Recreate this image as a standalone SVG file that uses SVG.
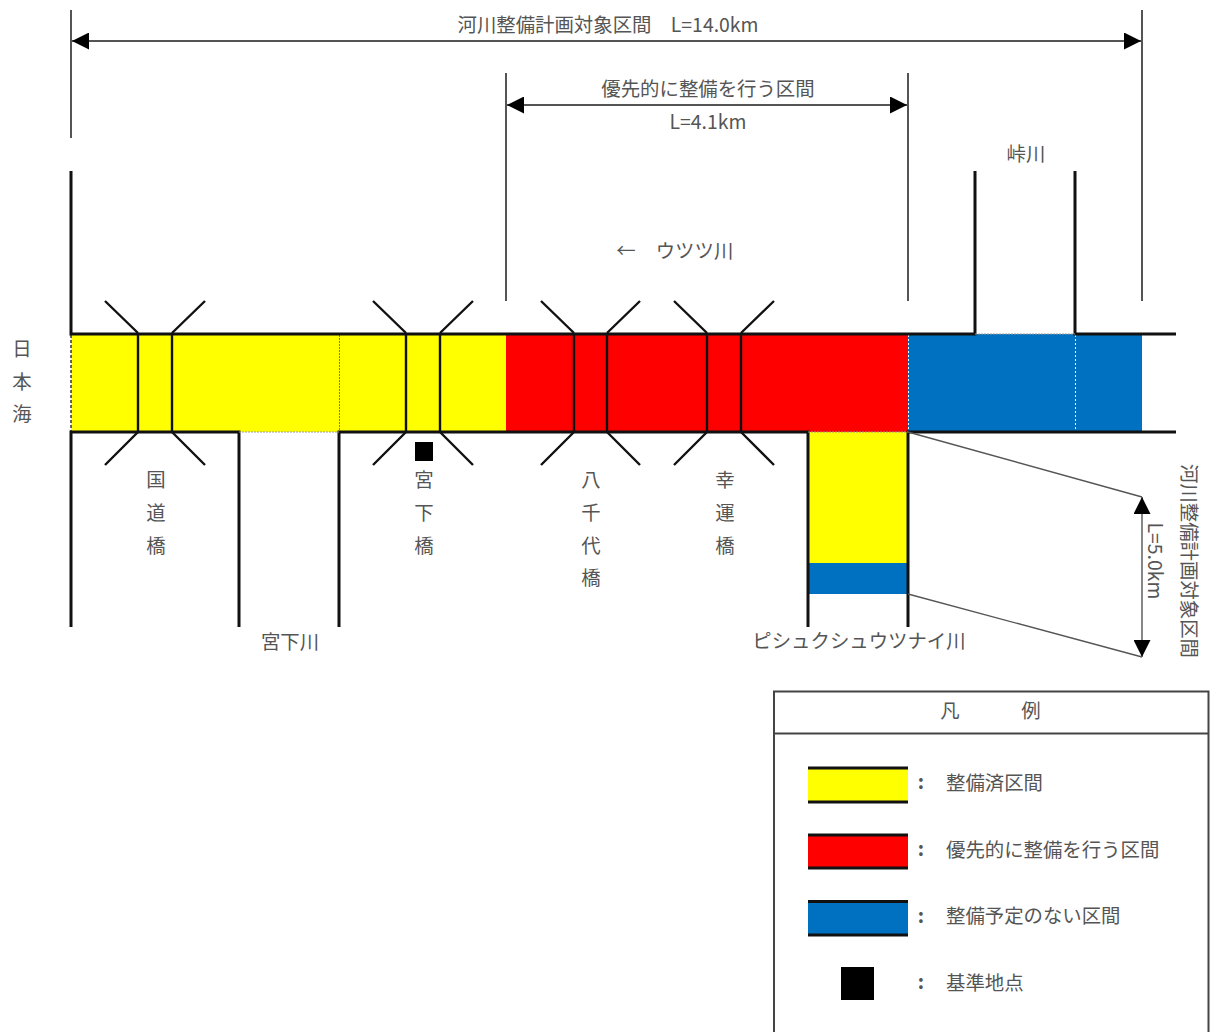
<svg xmlns="http://www.w3.org/2000/svg" width="1212" height="1032" viewBox="0 0 1212 1032">
<style>
text{font-family:"Noto Sans CJK JP","Noto Sans",sans-serif;font-size:19.400px;fill:#555;text-anchor:middle;dominant-baseline:central}
.s{text-anchor:start}
.c{font-weight:700}
.b{stroke:#111;stroke-width:3;fill:none}
.m{stroke:#111;stroke-width:2.400;fill:none}
.d{stroke:#555;stroke-width:2;fill:none}
.t{stroke:#555;stroke-width:1.400;fill:none}
.w{stroke:#fff;stroke-width:1;stroke-dasharray:2 2;fill:none}
.y{fill:#ff0}.r{fill:#f00}.u{fill:#0070c0}
</style>
<defs>
<marker id="a" viewBox="0 0 17 17" refX="17" refY="8.500" markerWidth="17" markerHeight="17" markerUnits="userSpaceOnUse" orient="auto-start-reverse"><path d="M0 0L17 8.500L0 17Z" fill="#000"/></marker>
</defs>
<g id="river">
<rect class="y" x="71" y="334" width="435" height="98"/>
<rect class="r" x="506" y="334" width="402" height="98"/>
<rect class="u" x="908" y="334" width="234" height="98"/>
<rect class="y" x="808" y="432" width="100" height="131"/>
<rect class="u" x="808" y="563" width="100" height="31"/>
<path d="M71 335V431" fill="none" stroke="#333" stroke-width="1.500" stroke-dasharray="3 2"/>
<path d="M339.500 335V431" fill="none" stroke="#777" stroke-width="1" stroke-dasharray="2 1"/>
<path class="w" d="M908.500 335V431M1075.500 335V431"/>
<path class="b" d="M71 171V334H975V171M1075 171V334H1176M71 627V432H239V627M339 627V432H808V627M908 627V432H1176"/>
<path d="M975 334H1075M239 432H339M808 432H908" fill="none" stroke="#999" stroke-width="1" stroke-dasharray="2 1"/>
</g>
<g id="bridge-kokudo">
<path class="m" d="M138 333V432M172 333V432M105 301L138 333M205 301L172 333M105 465L138 432M205 465L172 432"/>
<text x="156" y="478">国</text><text x="156" y="511">道</text><text x="156" y="544">橋</text>
</g>
<g id="bridge-miyashita">
<path class="m" d="M406 333V432M440 333V432M373 301L406 333M473 301L440 333M373 465L406 432M473 465L440 432"/>
<text x="424" y="478">宮</text><text x="424" y="511">下</text><text x="424" y="544">橋</text>
</g>
<g id="bridge-yachiyo">
<path class="m" d="M574 333V432M607 333V432M541 301L574 333M640 301L607 333M541 465L574 432M640 465L607 432"/>
<text x="591" y="478">八</text><text x="591" y="511">千</text><text x="591" y="544">代</text><text x="591" y="576">橋</text>
</g>
<g id="bridge-koun">
<path class="m" d="M707 333V432M741 333V432M674 301L707 333M774 301L741 333M674 465L707 432M774 465L741 432"/>
<text x="725" y="478">幸</text><text x="725" y="511">運</text><text x="725" y="544">橋</text>
</g>
<g id="base-point"><rect x="415" y="442" width="18" height="19" fill="#000"/></g>
<g id="connectors">
<path class="d" d="M71 10V138M1142 10V301M506 73V301M908 73V301"/>
<path class="d" d="M72 41H1141" marker-start="url(#a)" marker-end="url(#a)"/>
<path class="d" d="M507 105H907" marker-start="url(#a)" marker-end="url(#a)"/>
<path class="t" d="M1142 497V657" marker-start="url(#a)" marker-end="url(#a)"/>
<path class="t" d="M908 432L1142 497M908 594L1142 657"/>
</g>
<g id="labels">
<text x="608" y="23" xml:space="preserve">河川整備計画対象区間　L=14.0km</text>
<text x="708" y="87">優先的に整備を行う区間</text>
<text x="708" y="120">L=4.1km</text>
<text x="1026" y="152">峠川</text>
<text x="626" y="249">←</text>
<text x="694.500" y="249">ウツツ川</text>
<text x="22" y="347">日</text><text x="22" y="380">本</text><text x="22" y="412">海</text>
<text x="290" y="640">宮下川</text>
<text x="859" y="639">ピシュクシュウツナイ川</text>
<text transform="translate(1156 561) rotate(90)">L=5.0km</text>
<text transform="translate(1190 561) rotate(90)">河川整備計画対象区間</text>
</g>
<g id="legend">
<path d="M774 1032V691.500H1208.500V1032M774 733.500H1208.500" fill="none" stroke="#444" stroke-width="2"/>
<text x="950" y="709">凡</text><text x="1031" y="709">例</text>
<rect class="y" x="808" y="767" width="100" height="35"/>
<rect class="r" x="808" y="834" width="100" height="35"/>
<rect class="u" x="808" y="901" width="100" height="35"/>
<path class="b" d="M808 768H908M808 802H908M808 835H908M808 868H908M808 901.500H908M808 935H908"/>
<rect x="841" y="967" width="33" height="33" fill="#000"/>
<text class="c" x="921" y="780">:</text><text class="c" x="921" y="847">:</text><text class="c" x="921" y="914">:</text><text class="c" x="921" y="980">:</text>
<text class="s" x="946" y="781">整備済区間</text>
<text class="s" x="946" y="848">優先的に整備を行う区間</text>
<text class="s" x="946" y="914">整備予定のない区間</text>
<text class="s" x="946" y="981">基準地点</text>
</g>
</svg>
